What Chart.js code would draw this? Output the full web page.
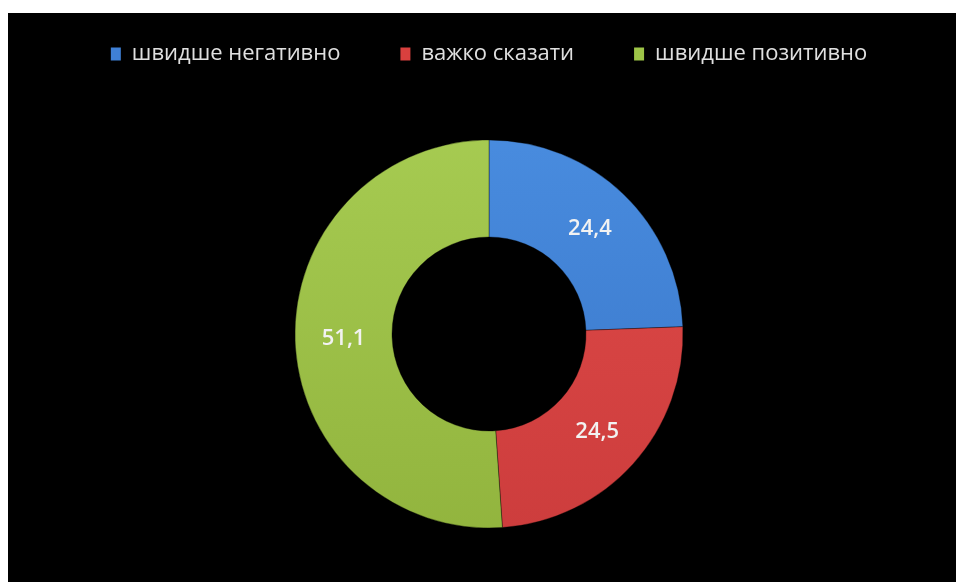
<!DOCTYPE html>
<html>
<head>
<meta charset="utf-8">
<script src="https://cdn.jsdelivr.net/npm/chart.js@4.4.0/dist/chart.umd.min.js"></script>
<style>
    html, body { margin: 0; padding: 0; background: #fff; width: 956px; height: 582px; overflow: hidden; }
    #back { position: absolute; left: 8px; top: 13px; width: 948px; height: 569px; background: #000; }
    #wrap { position: absolute; left: 8px; top: -17px; width: 948px; height: 610px; }
</style>
</head>
<body>
<div id="back"></div>
<div id="wrap"><canvas id="opinionChart" width="948" height="610"></canvas></div>
<script>
var labels = ["швидше негативно", "важко сказати", "швидше позитивно"];
var values = [24.4, 24.5, 51.1];
var topColors = ["#4b8fe2", "#e24c4a", "#a9ce54"];
var bottomColors = ["#3672c4", "#ca3b3b", "#8fb13b"];
var flatColors = ["#3f80d6", "#d9403e", "#9dc447"];

// gradient top -> bottom on each slice, a bit like the excel bevel look
function sliceColor(context) {
    var chart = context.chart;
    var area = chart.chartArea;
    if (!area) return flatColors[context.dataIndex];
    var g = chart.ctx.createLinearGradient(0, area.top, 0, area.bottom);
    g.addColorStop(0, topColors[context.dataIndex]);
    g.addColorStop(1, bottomColors[context.dataIndex]);
    return g;
}

var valueLabels = {
    id: 'valueLabels',
    afterDatasetsDraw: function (chart) {
        var ctx = chart.ctx;
        var meta = chart.getDatasetMeta(0);
        ctx.save();
        ctx.font = "600 22px 'Open Sans'";
        ctx.fillStyle = "#f2f2f2";
        ctx.textAlign = "center";
        ctx.textBaseline = "middle";
        meta.data.forEach(function (arc, i) {
            var p = arc.tooltipPosition();
            ctx.fillText(String(values[i]).replace('.', ','), p.x, p.y);
        });
        ctx.restore();
    }
};

var opinionChart = document.getElementById('opinionChart').getContext('2d');

let chart1 = new Chart(opinionChart, {
    type: 'doughnut',
    data: {
        labels: labels,
        datasets: [{
            data: values,
            backgroundColor: sliceColor,
            borderColor: "rgba(0,0,0,0.35)",
            borderWidth: 1
        }]
    },

    plugins: [valueLabels],

    options: {
        responsive: false,
        animation: false,
        cutout: '50%',
        radius: 194,
        layout: {
            padding: { left: 14, top: 0, right: 0, bottom: 0 }
        },
        plugins: {
            legend: {
                display: true,
                position: 'top',
                labels: {
                    color: "#e0e0e0",
                    boxWidth: 10,
                    boxHeight: 13,
                    padding: 60,
                    font: { family: "'Open Sans'", size: 22 },
                    generateLabels: function (chart) {
                        return labels.map(function (l, i) {
                            return {
                                text: l,
                                fillStyle: flatColors[i],
                                strokeStyle: flatColors[i],
                                lineWidth: 0,
                                fontColor: "#e0e0e0",
                                index: i
                            };
                        });
                    }
                }
            },
            tooltip: { enabled: false }
        }
    }
})
</script>
</body>
</html>
